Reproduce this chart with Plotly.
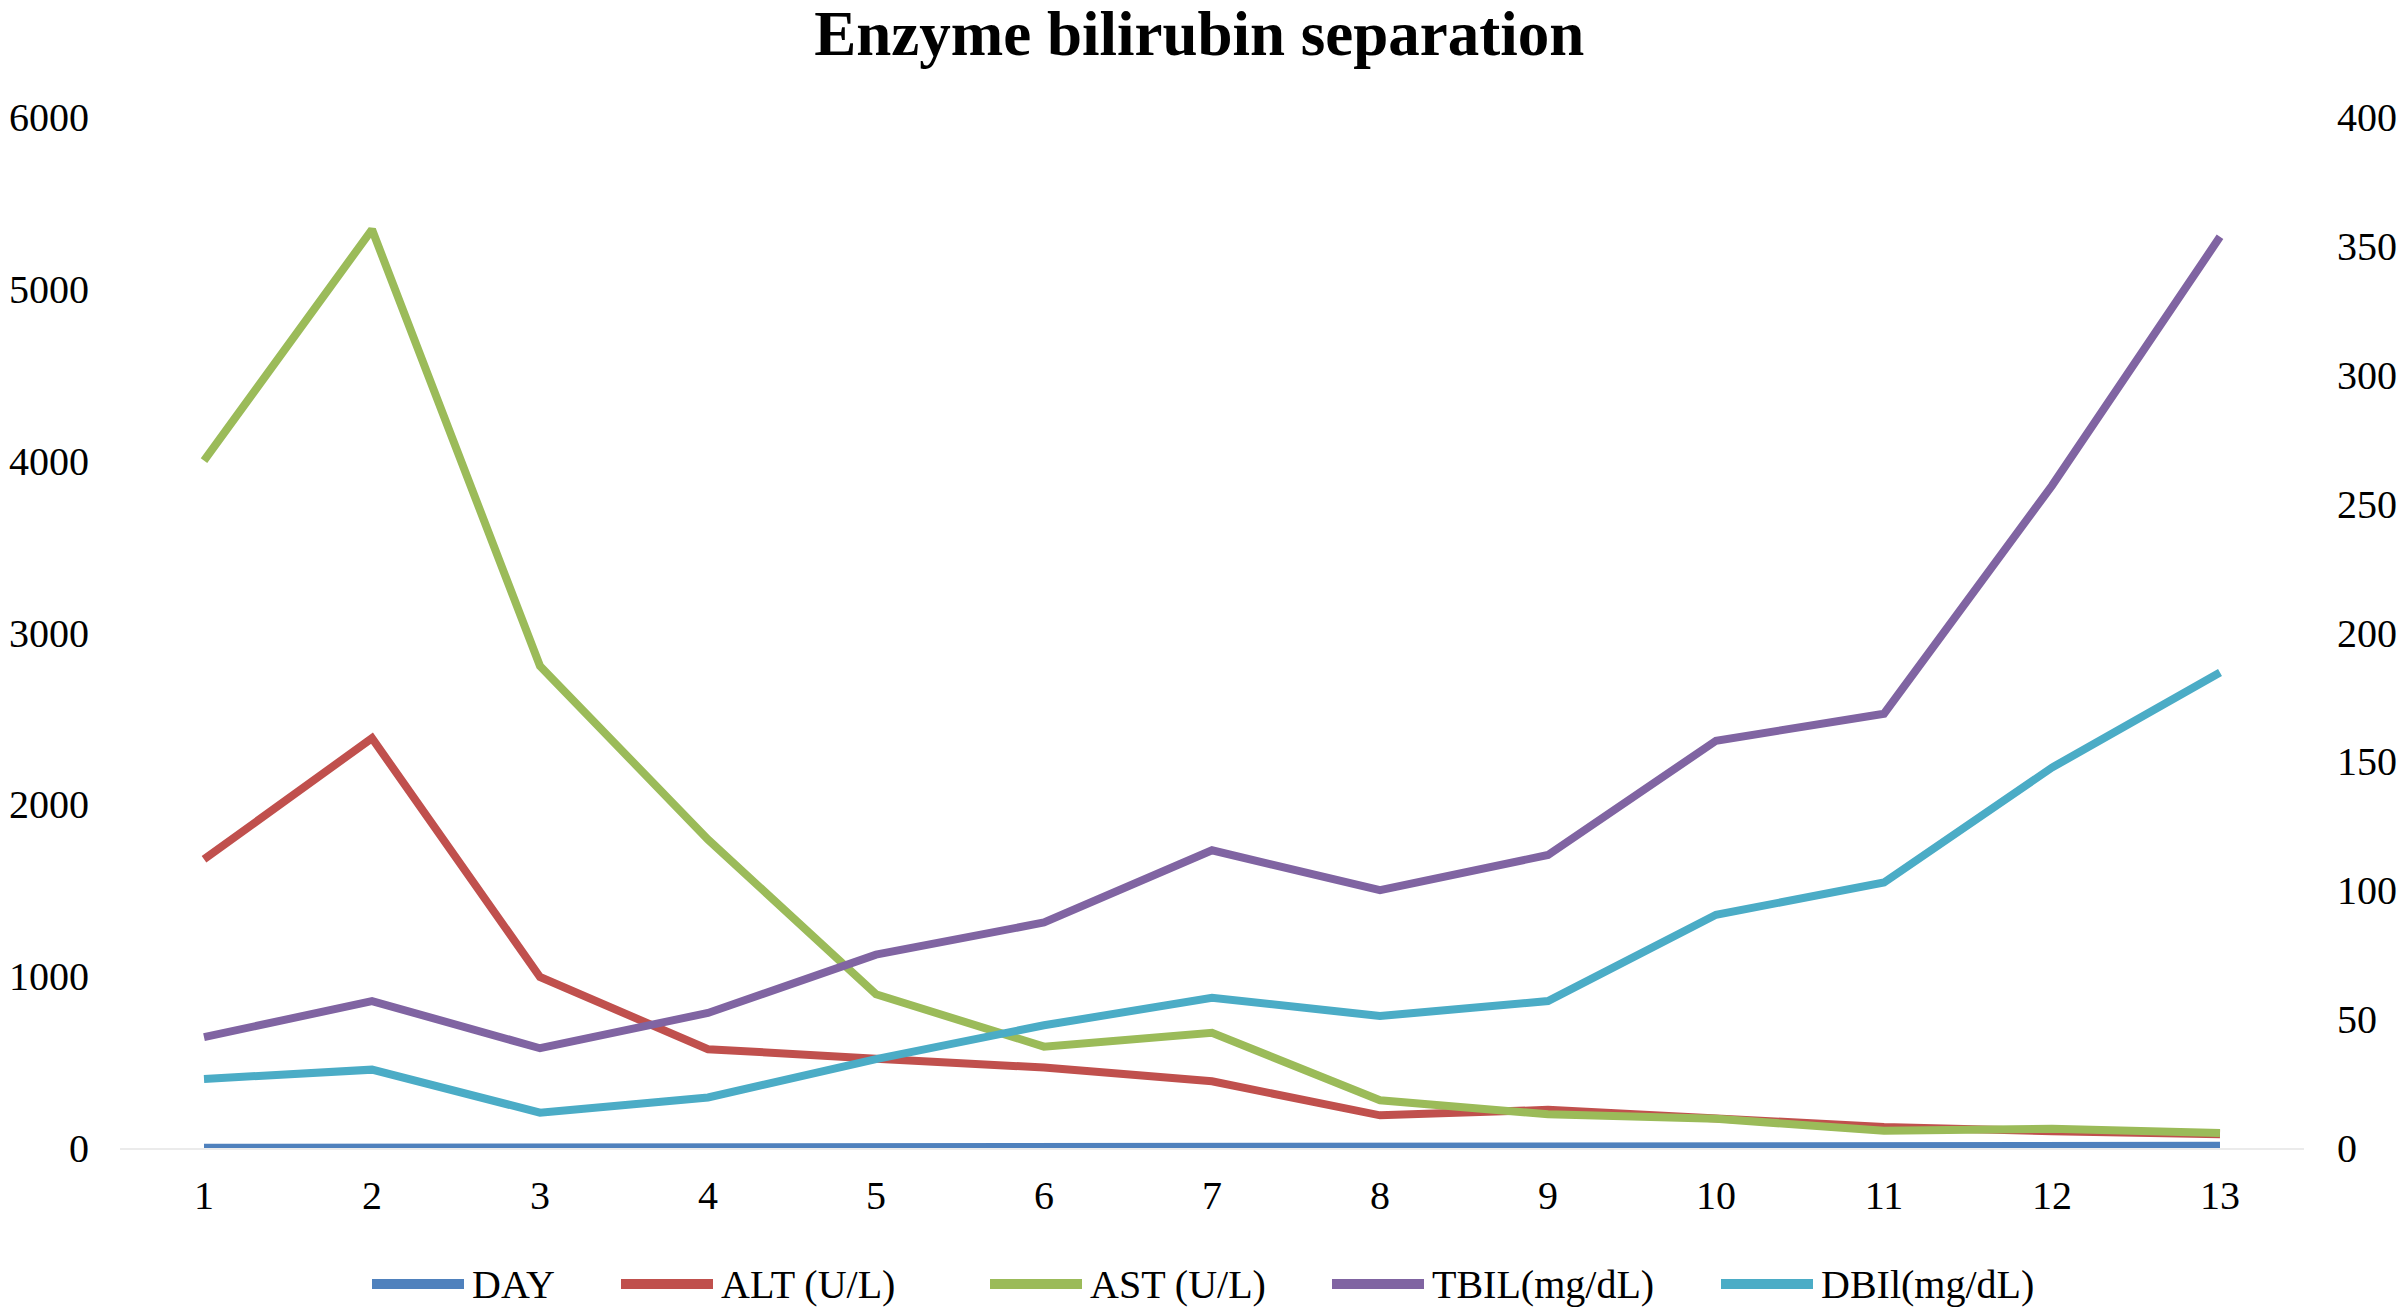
import plotly.graph_objects as go

days = [1, 2, 3, 4, 5, 6, 7, 8, 9, 10, 11, 12, 13]
day_vals = [1, 2, 3, 4, 5, 6, 7, 8, 9, 10, 11, 12, 13]
alt_vals = [1680, 2385, 995, 575, 520, 468, 388, 190, 222, 170, 122, 98, 80]
ast_vals = [4000, 5345, 2805, 1795, 895, 590, 670, 278, 196, 170, 100, 112, 88]
tbil_vals = [43, 57, 38.7, 52.4, 75, 87.5, 115.5, 100, 113.7, 158, 168.5, 257, 353.5]
dbil_vals = [26.8, 30.4, 13.7, 19.6, 34.5, 47.6, 58.3, 51.2, 57, 90.5, 103, 147.6, 184.5]

names = ["DAY", "ALT (U/L)", "AST (U/L)", "TBIL(mg/dL)", "DBIl(mg/dL)"]
colors = ["#4F81BD", "#C0504D", "#9BBB59", "#8064A2", "#4BACC6"]

FONT = "Liberation Serif"
W, H = 2401, 1311
L, R, T, B = 120, 97, 117, 163
PW = W - L - R

fig = go.Figure()
series = [(day_vals, "y"), (alt_vals, "y"), (ast_vals, "y"), (tbil_vals, "y2"), (dbil_vals, "y2")]
for (vals, ax), name, col in zip(series, names, colors):
    fig.add_trace(go.Scatter(
        x=days, y=vals, name=name, mode="lines", yaxis=ax,
        line=dict(color=col, width=8), showlegend=False,
    ))

# custom legend (pixel positions of the legend entries)
leg_x = [372, 621, 990, 1332, 1721]
leg_y = 1284
line_len = 92
for lx, name, col in zip(leg_x, names, colors):
    x0 = (lx - L) / PW
    x1 = (lx + line_len - L) / PW
    yp = (H - B - leg_y) / (H - T - B)
    fig.add_shape(type="line", xref="paper", yref="paper", x0=x0, x1=x1, y0=yp, y1=yp,
                  line=dict(color=col, width=10))
    fig.add_annotation(xref="paper", yref="paper", x=(lx + line_len + 6 - L) / PW, y=yp,
                       text=name, showarrow=False, xanchor="left", yanchor="middle",
                       font=dict(family=FONT, size=40, color="#000000"))

fig.update_layout(
    width=W, height=H,
    margin=dict(l=L, r=R, t=T, b=B, autoexpand=False),
    paper_bgcolor="white", plot_bgcolor="white",
    title=dict(text="<b>Enzyme bilirubin separation</b>", x=0.4995, xanchor="center",
               y=1 - 33 / H, yanchor="middle", yref="container",
               font=dict(family=FONT, size=63, color="#000000")),
    xaxis=dict(range=[0.5, 13.5], tickmode="array", tickvals=days,
               ticktext=[str(d) for d in days], showgrid=False, zeroline=False,
               showline=True, linecolor="#EBEBEB", linewidth=2, ticks="",
               ticklabelstandoff=11,
               tickfont=dict(family=FONT, size=40, color="#000000")),
    yaxis=dict(range=[0, 6000], tickvals=[0, 1000, 2000, 3000, 4000, 5000, 6000],
               showgrid=False, zeroline=False, showline=False, ticks="",
               ticklabelstandoff=30,
               tickfont=dict(family=FONT, size=40, color="#000000")),
    yaxis2=dict(range=[0, 400], tickvals=[0, 50, 100, 150, 200, 250, 300, 350, 400],
                overlaying="y", side="right", showgrid=False, zeroline=False,
                showline=False, ticks="", ticklabelstandoff=32,
                tickfont=dict(family=FONT, size=40, color="#000000")),
    showlegend=False,
)

fig.write_html("out.html", config={"displayModeBar": False},
               post_script="document.body.style.margin='0px';")
